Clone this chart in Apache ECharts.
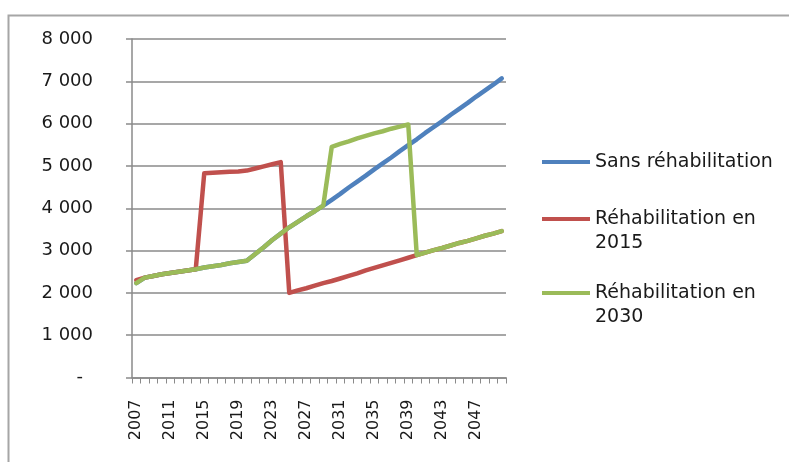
<!DOCTYPE html>
<html>
<head>
<meta charset="utf-8">
<script src="https://cdn.jsdelivr.net/npm/echarts@6/dist/echarts.min.js"></script>
<style>
html,body{margin:0;padding:0;background:#fff;}
#c{width:789px;height:462px;}
</style>
</head>
<body>
<div id="c"></div>
<script>
var years = [];
for (var y = 2007; y <= 2050; y++) years.push(String(y));

var seriesNames = ["Sans réhabilitation", "Réhabilitation en 2015", "Réhabilitation en 2030"];

var sansRehab = [2230,2360,2400,2440,2470,2500,2530,2560,2600,2630,2660,2700,2730,2760,
  2920,3080,3250,3400,3550,3680,3810,3930,4060,
  4200,4340,4490,4630,4770,4920,5060,5200,5350,5490,5630,5780,5920,6060,6210,6350,6490,6640,6780,6920,7070];

var rehab2015 = [2300,2360,2400,2440,2470,2500,2530,2560,
  4830,4840,4850,4860,4870,4890,4940,4990,5040,5090,
  2000,2060,2110,2170,2230,2280,2340,2400,2460,2530,2590,2650,2710,2770,2830,
  2890,2950,3010,3060,3120,3180,3230,3290,3350,3400,3460];

var rehab2030 = [2230,2360,2400,2440,2470,2500,2530,2560,2600,2630,2660,2700,2730,2760,
  2920,3080,3250,3400,3550,3680,3810,3930,4060,
  5450,5520,5580,5650,5710,5770,5820,5880,5930,5980,
  2890,2950,3010,3060,3120,3180,3230,3290,3350,3400,3460];

var colors = ["#4F81BD", "#C0504D", "#9BBB59"];
var FONT = "DejaVu Sans";

var chart = echarts.init(document.getElementById('c'), null, {renderer: 'canvas'});

function legendFor(i, top, wrap) {
  return {
    show: true,
    data: [seriesNames[i]],
    left: 542,
    top: top,
    padding: 0,
    icon: 'rect',
    itemWidth: 48,
    itemHeight: 4,
    selectedMode: false,
    formatter: function (name) {
      if (!wrap) return '{t|' + name + '}';
      var parts = name.split(' en ');
      return '{e| }\n{t|' + parts[0] + ' en}\n{t|' + parts[1] + '}';
    },
    textStyle: {
      fontFamily: FONT, fontSize: 19, color: '#1a1a1a', lineHeight: 24,
      rich: {
        t: {fontFamily: FONT, fontSize: 19, color: '#1a1a1a', lineHeight: 24},
        e: {fontFamily: FONT, fontSize: 19, lineHeight: 24}
      }
    }
  };
}

var option = {
  animation: false,
  color: colors,
  graphic: [{
    type: 'rect', left: 6, top: 13, silent: true,
    shape: {x: 0, y: 0, width: 900, height: 600},
    style: {fill: 'none', stroke: '#a6a6a6', lineWidth: 2}
  }],
  legend: [
    legendFor(0, 150, false),
    legendFor(1, 183, true),
    legendFor(2, 257, true)
  ],
  grid: {left: 132, top: 39, width: 374, height: 338.5},
  xAxis: {
    type: 'category',
    data: years,
    boundaryGap: true,
    axisLine: {show: true, lineStyle: {color: '#8a8a8a', width: 1.5}},
    axisTick: {show: true, interval: 0, length: 6, lineStyle: {color: '#8a8a8a', width: 1}},
    axisLabel: {
      interval: 3, rotate: 90, margin: 22,
      fontFamily: FONT, fontSize: 16, color: '#1a1a1a'
    },
    splitLine: {show: false}
  },
  yAxis: {
    type: 'value',
    min: 0, max: 8000, interval: 1000,
    axisLine: {show: true, lineStyle: {color: '#8a8a8a', width: 1.5}},
    axisTick: {show: true, length: 6, lineStyle: {color: '#8a8a8a', width: 1.5}},
    splitLine: {show: true, lineStyle: {color: '#8a8a8a', width: 1.5}},
    axisLabel: {
      margin: 39,
      fontFamily: FONT, fontSize: 18, color: '#1a1a1a',
      formatter: function (v) {
        if (v === 0) return '{z|-}';
        var s = String(v);
        return s.slice(0, s.length - 3) + ' ' + s.slice(-3);
      },
      rich: {z: {fontFamily: FONT, fontSize: 18, color: '#1a1a1a', padding: [0, 10, 0, 0]}}
    }
  },
  series: [
    {name: seriesNames[0], type: 'line', data: sansRehab, showSymbol: false, symbol: 'none',
      lineStyle: {width: 4.5, color: colors[0], cap: 'round', join: 'round'}},
    {name: seriesNames[1], type: 'line', data: rehab2015, showSymbol: false, symbol: 'none',
      lineStyle: {width: 4.5, color: colors[1], cap: 'round', join: 'round'}},
    {name: seriesNames[2], type: 'line', data: rehab2030, showSymbol: false, symbol: 'none',
      lineStyle: {width: 4.5, color: colors[2], cap: 'round', join: 'round'}}
  ]
};
chart.setOption(option);
</script>
</body>
</html>
